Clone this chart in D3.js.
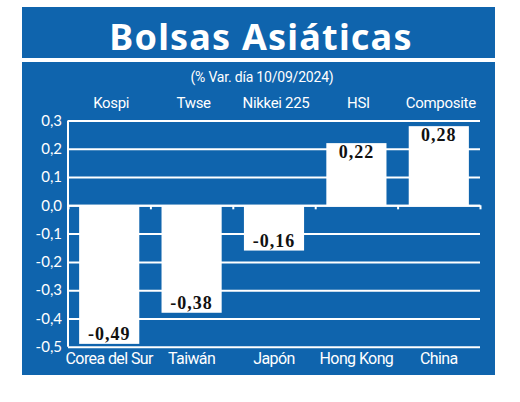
<!DOCTYPE html>
<html>
<head>
<meta charset="utf-8">
<script src="https://cdn.jsdelivr.net/npm/d3@7"></script>
<style>
  body { margin: 0; background: #fff; }
  svg { display: block; }
</style>
</head>
<body>
<div id="chart"></div>
<script>
// datos del gráfico
const countries = ["Corea del Sur", "Taiwán", "Japón", "Hong Kong", "China"];
const indexes = ["Kospi", "Twse", "Nikkei 225", "HSI", "Composite"];
const changes = [-0.49, -0.38, -0.16, 0.22, 0.28];
const changeLabels = ["-0,49", "-0,38", "-0,16", "0,22", "0,28"];
const yTicks = [-0.5, -0.4, -0.3, -0.2, -0.1, 0, 0.1, 0.2, 0.3];
const yTickLabels = ["-0,5", "-0,4", "-0,3", "-0,2", "-0,1", "0,0", "0,1", "0,2", "0,3"];

const WIDTH = 520;
const HEIGHT = 402;
const BLUE = "#0f64ad";
const LEFT = 68;
const RIGHT = 480;
const TOP = 120.5;
const BOTTOM = 346.7;
const NARROW = "'Liberation Sans Narrow', 'Arial Narrow', 'Roboto', sans-serif";

const svg = d3.select("#chart")
              .append("svg")
              .attr("width", WIDTH)
              .attr("height", HEIGHT);

// cajas azules
svg.append("rect")
   .attr("x", 22).attr("y", 7)
   .attr("width", 473).attr("height", 51)
   .attr("fill", BLUE);
svg.append("rect")
   .attr("x", 22).attr("y", 62)
   .attr("width", 473).attr("height", 313)
   .attr("fill", BLUE);

svg.append("text")
   .attr("x", 261)
   .attr("y", 50)
   .attr("text-anchor", "middle")
   .attr("fill", "#fff")
   .attr("font-family", "'Noto Sans', sans-serif")
   .attr("font-weight", "bold")
   .attr("font-size", "36px")
   .attr("letter-spacing", "1.2px")
   .text("Bolsas Asiáticas");

svg.append("text")
   .attr("x", 262)
   .attr("y", 82)
   .attr("text-anchor", "middle")
   .attr("fill", "#fff")
   .attr("font-family", NARROW)
   .attr("font-size", "14px")
   .attr("letter-spacing", "-0.2px")
   .text("(% Var. día 10/09/2024)");

const X_SCALE = d3.scaleBand()
                  .domain(countries)
                  .range([LEFT, RIGHT])
                  .paddingInner(0.27)
                  .paddingOuter(0.135);

const Y_SCALE = d3.scaleLinear()
                  .domain([-0.5, 0.3])
                  .range([BOTTOM, TOP]);

// rejilla y etiquetas del eje y
const Y_AXIS = d3.axisLeft(Y_SCALE)
                 .tickValues(yTicks)
                 .tickSize(-(RIGHT - LEFT))
                 .tickPadding(6)
                 .tickFormat((d, i) => yTickLabels[i]);

const yAxis = svg.append("g")
                 .attr("transform", "translate(" + LEFT + ",0)")
                 .call(Y_AXIS);
yAxis.select(".domain")
     .attr("stroke", "#fff")
     .attr("stroke-width", 2)
     .attr("d", "M0," + Y_SCALE(0.3) + "V" + Y_SCALE(-0.5));
yAxis.selectAll(".tick line")
     .attr("stroke", "#fff")
     .attr("stroke-width", 2);
yAxis.selectAll(".tick text")
     .attr("fill", "#fff")
     .attr("font-family", "Lato, sans-serif")
     .attr("font-size", "15px");

// barras
svg.selectAll(".bar")
   .data(changes)
   .enter()
   .append("rect")
   .attr("class", "bar")
   .attr("x", (d, i) => X_SCALE(countries[i]))
   .attr("y", (d) => Y_SCALE(Math.max(d, 0)))
   .attr("width", X_SCALE.bandwidth())
   .attr("height", (d) => Math.abs(Y_SCALE(d) - Y_SCALE(0)))
   .attr("fill", "#fff");

// linea del cero con marcas entre categorias
const EDGE_SCALE = d3.scaleLinear()
                     .domain([0, countries.length])
                     .range([LEFT, RIGHT]);
const zeroAxis = svg.append("g")
                    .attr("transform", "translate(0," + Y_SCALE(0) + ")")
                    .call(d3.axisBottom(EDGE_SCALE)
                            .tickValues(d3.range(countries.length + 1))
                            .tickSize(4)
                            .tickSizeOuter(0)
                            .tickFormat(""));
zeroAxis.selectAll("line, path")
        .attr("stroke", "#fff")
        .attr("stroke-width", 2);

// valores
svg.selectAll(".value")
   .data(changes)
   .enter()
   .append("text")
   .attr("class", "value")
   .attr("x", (d, i) => X_SCALE(countries[i]) + X_SCALE.bandwidth() / 2)
   .attr("y", (d) => d < 0 ? Y_SCALE(d) - 4 : Y_SCALE(d) + 15)
   .attr("text-anchor", "middle")
   .attr("fill", "#111")
   .attr("font-family", "'Liberation Serif', serif")
   .attr("font-weight", "bold")
   .attr("font-size", "18px")
   .attr("letter-spacing", "1px")
   .text((d, i) => changeLabels[i]);

// indices arriba
svg.selectAll(".index")
   .data(indexes)
   .enter()
   .append("text")
   .attr("class", "index")
   .attr("x", (d, i) => X_SCALE(countries[i]) + X_SCALE.bandwidth() / 2 + 2)
   .attr("y", 108)
   .attr("text-anchor", "middle")
   .attr("fill", "#fff")
   .attr("font-family", NARROW)
   .attr("font-size", "15px")
   .attr("letter-spacing", "-0.3px")
   .text((d) => d);

// paises abajo
svg.selectAll(".country")
   .data(countries)
   .enter()
   .append("text")
   .attr("class", "country")
   .attr("x", (d) => X_SCALE(d) + X_SCALE.bandwidth() / 2)
   .attr("y", 364)
   .attr("text-anchor", "middle")
   .attr("fill", "#fff")
   .attr("font-family", NARROW)
   .attr("font-size", "16px")
   .attr("letter-spacing", "-0.6px")
   .text((d) => d);
</script>
</body>
</html>
